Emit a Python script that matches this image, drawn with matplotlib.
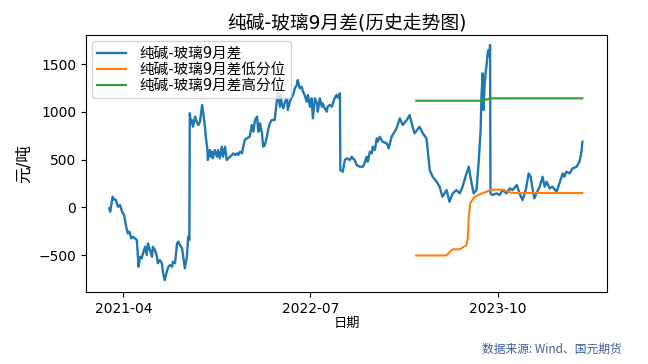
import numpy as np
import pandas as pd
import matplotlib
matplotlib.use("Agg")
import matplotlib.pyplot as plt
import matplotlib.dates as mdates

plt.rcParams['font.family'] = ['DejaVu Sans', 'Noto Sans CJK SC']
plt.rcParams['axes.unicode_minus'] = True

# 纯碱-玻璃9月差
spread_dates = [
    '2021-02-26', '2021-02-28', '2021-03-02', '2021-03-06', '2021-03-09', '2021-03-14',
    '2021-03-19', '2021-03-24', '2021-03-29', '2021-04-03', '2021-04-08', '2021-04-12',
    '2021-04-16', '2021-04-20', '2021-04-25', '2021-04-29', '2021-05-04', '2021-05-08',
    '2021-05-12', '2021-05-16', '2021-05-19', '2021-05-24', '2021-05-28', '2021-05-31',
    '2021-06-05', '2021-06-10', '2021-06-12', '2021-06-17', '2021-06-22', '2021-06-24',
    '2021-06-29', '2021-07-04', '2021-07-07', '2021-07-11', '2021-07-16', '2021-07-20',
    '2021-07-24', '2021-07-29', '2021-07-31', '2021-08-05', '2021-08-10', '2021-08-13',
    '2021-08-17', '2021-08-22', '2021-08-24', '2021-08-29', '2021-09-03', '2021-09-06',
    '2021-09-09', '2021-09-10', '2021-09-13', '2021-09-15', '2021-09-18', '2021-09-23',
    '2021-09-27', '2021-10-01', '2021-10-05', '2021-10-10', '2021-10-13', '2021-10-17',
    '2021-10-19', '2021-10-23', '2021-10-24', '2021-10-29', '2021-11-01', '2021-11-03',
    '2021-11-05', '2021-11-10', '2021-11-15', '2021-11-18', '2021-11-22', '2021-11-27',
    '2021-11-30', '2021-12-05', '2021-12-09', '2021-12-13', '2021-12-17', '2021-12-22',
    '2021-12-25', '2021-12-29', '2022-01-03', '2022-01-06', '2022-01-10', '2022-01-15',
    '2022-01-22', '2022-01-27', '2022-02-03', '2022-02-08', '2022-02-12', '2022-02-16',
    '2022-02-21', '2022-02-24', '2022-02-28', '2022-03-05', '2022-03-08', '2022-03-12',
    '2022-03-17', '2022-03-20', '2022-03-24', '2022-03-29', '2022-04-05', '2022-04-10',
    '2022-04-13', '2022-04-18', '2022-04-20', '2022-04-22', '2022-04-26', '2022-04-30',
    '2022-05-05', '2022-05-07', '2022-05-12', '2022-05-17', '2022-05-20', '2022-05-24',
    '2022-05-29', '2022-05-31', '2022-06-05', '2022-06-10', '2022-06-13', '2022-06-17',
    '2022-06-22', '2022-06-25', '2022-06-30', '2022-07-04', '2022-07-07', '2022-07-12',
    '2022-07-17', '2022-07-19', '2022-07-24', '2022-07-29', '2022-07-31', '2022-08-05',
    '2022-08-10', '2022-08-12', '2022-08-17', '2022-08-22', '2022-08-25', '2022-08-29',
    '2022-09-03', '2022-09-06', '2022-09-11', '2022-09-12', '2022-09-18', '2022-09-23',
    '2022-09-28', '2022-10-05', '2022-10-10', '2022-10-12', '2022-10-17', '2022-10-22',
    '2022-10-29', '2022-11-06', '2022-11-10', '2022-11-15', '2022-11-18', '2022-11-23',
    '2022-11-28', '2022-11-30', '2022-12-05', '2022-12-10', '2022-12-12', '2022-12-17',
    '2022-12-24', '2023-01-03', '2023-01-08', '2023-01-15', '2023-01-27', '2023-02-04',
    '2023-02-11', '2023-02-21', '2023-02-28', '2023-03-07', '2023-03-12', '2023-03-24',
    '2023-04-01', '2023-04-10', '2023-04-18', '2023-04-25', '2023-05-05', '2023-05-12',
    '2023-05-19', '2023-05-29', '2023-06-05', '2023-06-13', '2023-06-22', '2023-06-30',
    '2023-07-07', '2023-07-14', '2023-07-22', '2023-07-29', '2023-08-03', '2023-08-10',
    '2023-08-15', '2023-08-20', '2023-08-22', '2023-08-25', '2023-08-27', '2023-08-30',
    '2023-09-01', '2023-09-04', '2023-09-06', '2023-09-08', '2023-09-11', '2023-09-12',
    '2023-09-13', '2023-09-18', '2023-09-28', '2023-10-05', '2023-10-13', '2023-10-22',
    '2023-10-30', '2023-11-06', '2023-11-16', '2023-11-23', '2023-11-30', '2023-12-08',
    '2023-12-15', '2023-12-20', '2023-12-25', '2023-12-29', '2024-01-03', '2024-01-11',
    '2024-01-18', '2024-01-23', '2024-01-28', '2024-02-04', '2024-02-11', '2024-02-21',
    '2024-02-28', '2024-03-07', '2024-03-11', '2024-03-16', '2024-03-24', '2024-03-31',
    '2024-04-10', '2024-04-17', '2024-04-22', '2024-04-24',
]
spread_values = [
    -10, -46, 6, 111, 84, 77,
    6, 24, -46, -81, -203, -273,
    -256, -325, -308, -325, -343, -623,
    -518, -535, -483, -413, -500, -378,
    -448, -518, -413, -448, -518, -587,
    -553, -587, -692, -762, -675, -623,
    -605, -623, -570, -587, -378, -360,
    -395, -430, -483, -640, -518, -308,
    -343, 986, 881, 916, 846, 951,
    898, 863, 898, 1073, 986, 846,
    740, 601, 496, 601, 531, 583,
    514, 601, 531, 601, 514, 636,
    531, 636, 496, 514, 531, 549,
    566, 549, 566, 549, 583, 566,
    706, 723, 740, 863, 793, 916,
    951, 793, 881, 776, 636, 653,
    740, 811, 881, 916, 916, 1108,
    1196, 1055, 1178, 1091, 1038, 1108,
    1143, 1020, 1108, 1160, 1178, 1248,
    1283, 1335, 1248, 1265, 1213, 1178,
    1108, 1178, 1055, 1143, 933, 1143,
    1090, 1003, 1143, 1055, 1090, 1038,
    1003, 1055, 1073, 1055, 1090, 1143,
    1178, 1150, 1196, 391, 373, 496,
    514, 496, 531, 514, 496, 444,
    426, 426, 461, 531, 479, 583,
    566, 636, 601, 723, 688, 740,
    688, 671, 619, 740, 828, 933,
    863, 915, 968, 845, 776, 845,
    776, 723, 391, 321, 268, 216,
    111, 181, 59, 146, 181, 146,
    216, 321, 426, 251, 146, 181,
    461, 811, 1160, 1405, 1020, 1300,
    1405, 1510, 1615, 1650, 1580, 1702,
    146, 129, 146, 129, 181, 146,
    199, 181, 234, 146, 76, 181,
    356, 321, 181, 94, 146, 216,
    321, 216, 268, 199, 216, 164,
    251, 356, 321, 373, 356, 408,
    426, 478, 583, 688,
]

# 低分位
low_dates = ['2023-03-16', '2023-05-28', '2023-06-13', '2023-06-30', '2023-07-17',
             '2023-07-20', '2023-07-22', '2023-07-26', '2023-08-05', '2023-08-18',
             '2023-09-03', '2023-09-15', '2023-10-13', '2023-10-30', '2023-11-11',
             '2024-04-24']
low_values = [-505, -505, -440, -440, -395, -300, -100, 45, 111, 136, 164, 185, 185,
              157, 150, 150]

# 高分位
high_dates = ['2023-03-16', '2023-08-21', '2023-09-15', '2024-04-24']
high_values = [1118, 1118, 1143, 1143]

tick_dates = ['2021-04-01', '2022-07-01', '2023-10-01']

fig = plt.figure(figsize=(6.48, 3.64), dpi=100)
ax = fig.add_axes([0.1327, 0.1978, 0.804, 0.706])

ax.plot(pd.to_datetime(spread_dates), spread_values, lw=1.7, label='纯碱-玻璃9月差')
ax.plot(pd.to_datetime(low_dates), low_values, label='纯碱-玻璃9月差低分位')
ax.plot(pd.to_datetime(high_dates), high_values, label='纯碱-玻璃9月差高分位')

ax.set_xlim(pd.Timestamp('2020-12-31'), pd.Timestamp('2024-06-23'))
ax.set_ylim(-888, 1807)
ax.set_yticks([-500, 0, 500, 1000, 1500])
ax.set_xticks(pd.to_datetime(tick_dates))
ax.xaxis.set_major_formatter(mdates.DateFormatter('%Y-%m'))
ax.tick_params(labelsize=10)

ax.set_title('纯碱-玻璃9月差(历史走势图)', fontsize=13.5, pad=5)
ax.set_xlabel('日期', fontsize=9.5, labelpad=1)
ax.set_ylabel('元/吨', fontsize=12)
ax.legend(loc='upper left', fontsize=10.5, labelspacing=0.08, borderaxespad=0.4,
          handletextpad=0.9, borderpad=0.35)

fig.text(0.96, 0.04, '数据来源: Wind、国元期货', ha='right', va='center',
         fontsize=8.5, color='#3d5c9a', family=['Noto Sans CJK SC', 'DejaVu Sans'])

fig.savefig('out.png', dpi=100)
